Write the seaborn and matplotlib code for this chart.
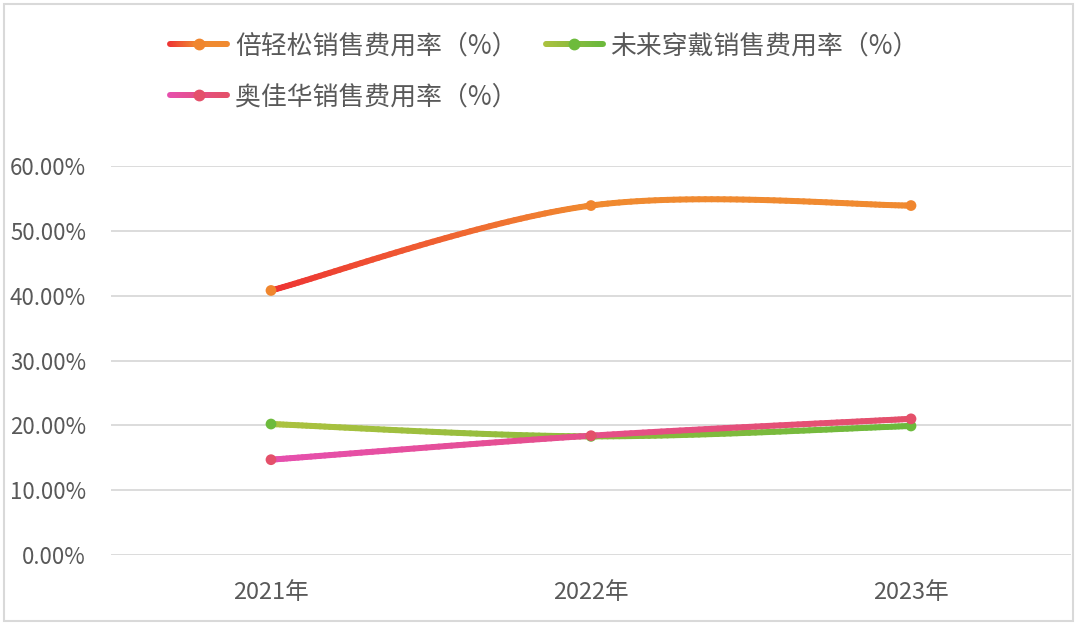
import matplotlib
matplotlib.use("Agg")
import matplotlib.pyplot as plt
import seaborn as sns
import numpy as np
import pandas as pd
from matplotlib.collections import LineCollection
from matplotlib.colors import LinearSegmentedColormap
from matplotlib.legend_handler import HandlerBase
from matplotlib.lines import Line2D
from matplotlib.patches import Rectangle
from matplotlib.ticker import PercentFormatter

years = ["2021年", "2022年", "2023年"]
series_names = ["倍轻松销售费用率（%）", "未来穿戴销售费用率（%）", "奥佳华销售费用率（%）"]
bqs_rate = [40.8, 53.9, 53.9]
wlcd_rate = [20.2, 18.3, 19.9]
ajh_rate = [14.7, 18.4, 21.0]

# gradient stops for each line (left -> right) and marker colours
line_colors = [["#EE3333", "#F08A30", "#F08A30"],
               ["#ACC23F", "#8DBB3E", "#6CB93C"],
               ["#E64FAE", "#E54F8A", "#E4506A"]]
marker_colors = ["#F0862E", "#6DBB3C", "#E4506A"]

sns.set_theme(style="white")
plt.rcParams["font.family"] = ["Noto Sans CJK SC", "DejaVu Sans"]

df = pd.DataFrame({
    "year": years * 3,
    "rate": bqs_rate + wlcd_rate + ajh_rate,
    "series": np.repeat(series_names, 3),
})


def smooth(y, n=60):
    # excel style smoothed line (catmull-rom as bezier pieces)
    pts = np.column_stack([np.arange(len(y), dtype=float), np.asarray(y, float)])
    p = np.vstack([pts[0], pts, pts[-1]])
    t = np.linspace(0, 1, n)[:, None]
    out = []
    for i in range(len(pts) - 1):
        p0, p1, p2, p3 = p[i], p[i + 1], p[i + 2], p[i + 3]
        c1 = p1 + (p2 - p0) / 6
        c2 = p2 - (p3 - p1) / 6
        seg = (1 - t) ** 3 * p1 + 3 * (1 - t) ** 2 * t * c1 + 3 * (1 - t) * t ** 2 * c2 + t ** 3 * p2
        out.append(seg if i == 0 else seg[1:])
    return np.vstack(out)


def gradient_segments(pts, colors, xmax):
    cmap = LinearSegmentedColormap.from_list("g", colors)
    segs = np.stack([pts[:-1], pts[1:]], axis=1)
    mid = (pts[:-1, 0] + pts[1:, 0]) / 2 / xmax
    return segs, cmap(mid)


class GradientHandler(HandlerBase):
    def __init__(self, colors, mcolor):
        super().__init__()
        self.colors = colors
        self.mcolor = mcolor

    def create_artists(self, legend, orig_handle, xdescent, ydescent, width, height, fontsize, trans):
        xs = np.linspace(0, width, 40) - xdescent
        y = height / 2 - ydescent
        pts = np.column_stack([xs, np.full_like(xs, y)])
        segs, cols = gradient_segments(pts - [xs[0], 0], self.colors, width)
        segs = segs + [xs[0], 0]
        lc = LineCollection(segs, colors=cols, linewidths=4.3, capstyle="round", transform=trans)
        m = Line2D([width / 2 - xdescent], [y], marker="o", markersize=7.5, color=self.mcolor,
                   linestyle="none", transform=trans)
        return [lc, m]


fig = plt.figure(figsize=(10.8, 6.28), dpi=100)
ax = fig.add_axes([111 / 1080, 73 / 628, 960 / 1080, 389 / 628])

sns.scatterplot(data=df, x="year", y="rate", hue="series", palette=marker_colors,
                s=60, linewidth=0, legend=False, ax=ax, zorder=4)

for vals, cols in zip([bqs_rate, wlcd_rate, ajh_rate], line_colors):
    pts = smooth(vals)
    segs, c = gradient_segments(pts, cols, len(vals) - 1)
    ax.add_collection(LineCollection(segs, colors=c, linewidths=4.3, capstyle="round", zorder=3))

ax.set_xlim(-0.5, 2.5)
ax.set_ylim(0, 60)
ax.set_yticks(range(0, 61, 10))
ax.yaxis.set_major_formatter(PercentFormatter(xmax=100, decimals=2))
ax.grid(axis="y", color="#D9D9D9", linewidth=1.3)
ax.set_axisbelow(True)
for s in ax.spines.values():
    s.set_visible(False)
ax.tick_params(axis="y", length=0, pad=18, labelsize=16, labelcolor="#595959")
ax.tick_params(axis="x", length=0, pad=19, labelsize=17, labelcolor="#595959")
ax.set_xlabel("")
ax.set_ylabel("")

handles = [Line2D([], []) for _ in series_names]
hmap = {h: GradientHandler(c, m) for h, c, m in zip(handles, line_colors, marker_colors)}
order = [0, 2, 1]
fig.legend([handles[i] for i in order], [series_names[i] for i in order], handler_map=hmap,
           loc="upper left", bbox_to_anchor=(147 / 1080, 1 - 9 / 628), ncol=2, frameon=False,
           fontsize=18.6, handlelength=2.2, handletextpad=0.3, columnspacing=1.1,
           labelspacing=0.93, labelcolor="#595959")

fig.patches.append(Rectangle((4 / 1080, 7 / 628), 1069 / 1080, 617 / 628, transform=fig.transFigure,
                             fill=False, edgecolor="#D9D9D9", linewidth=1.5))

fig.savefig("out.png", dpi=100)
